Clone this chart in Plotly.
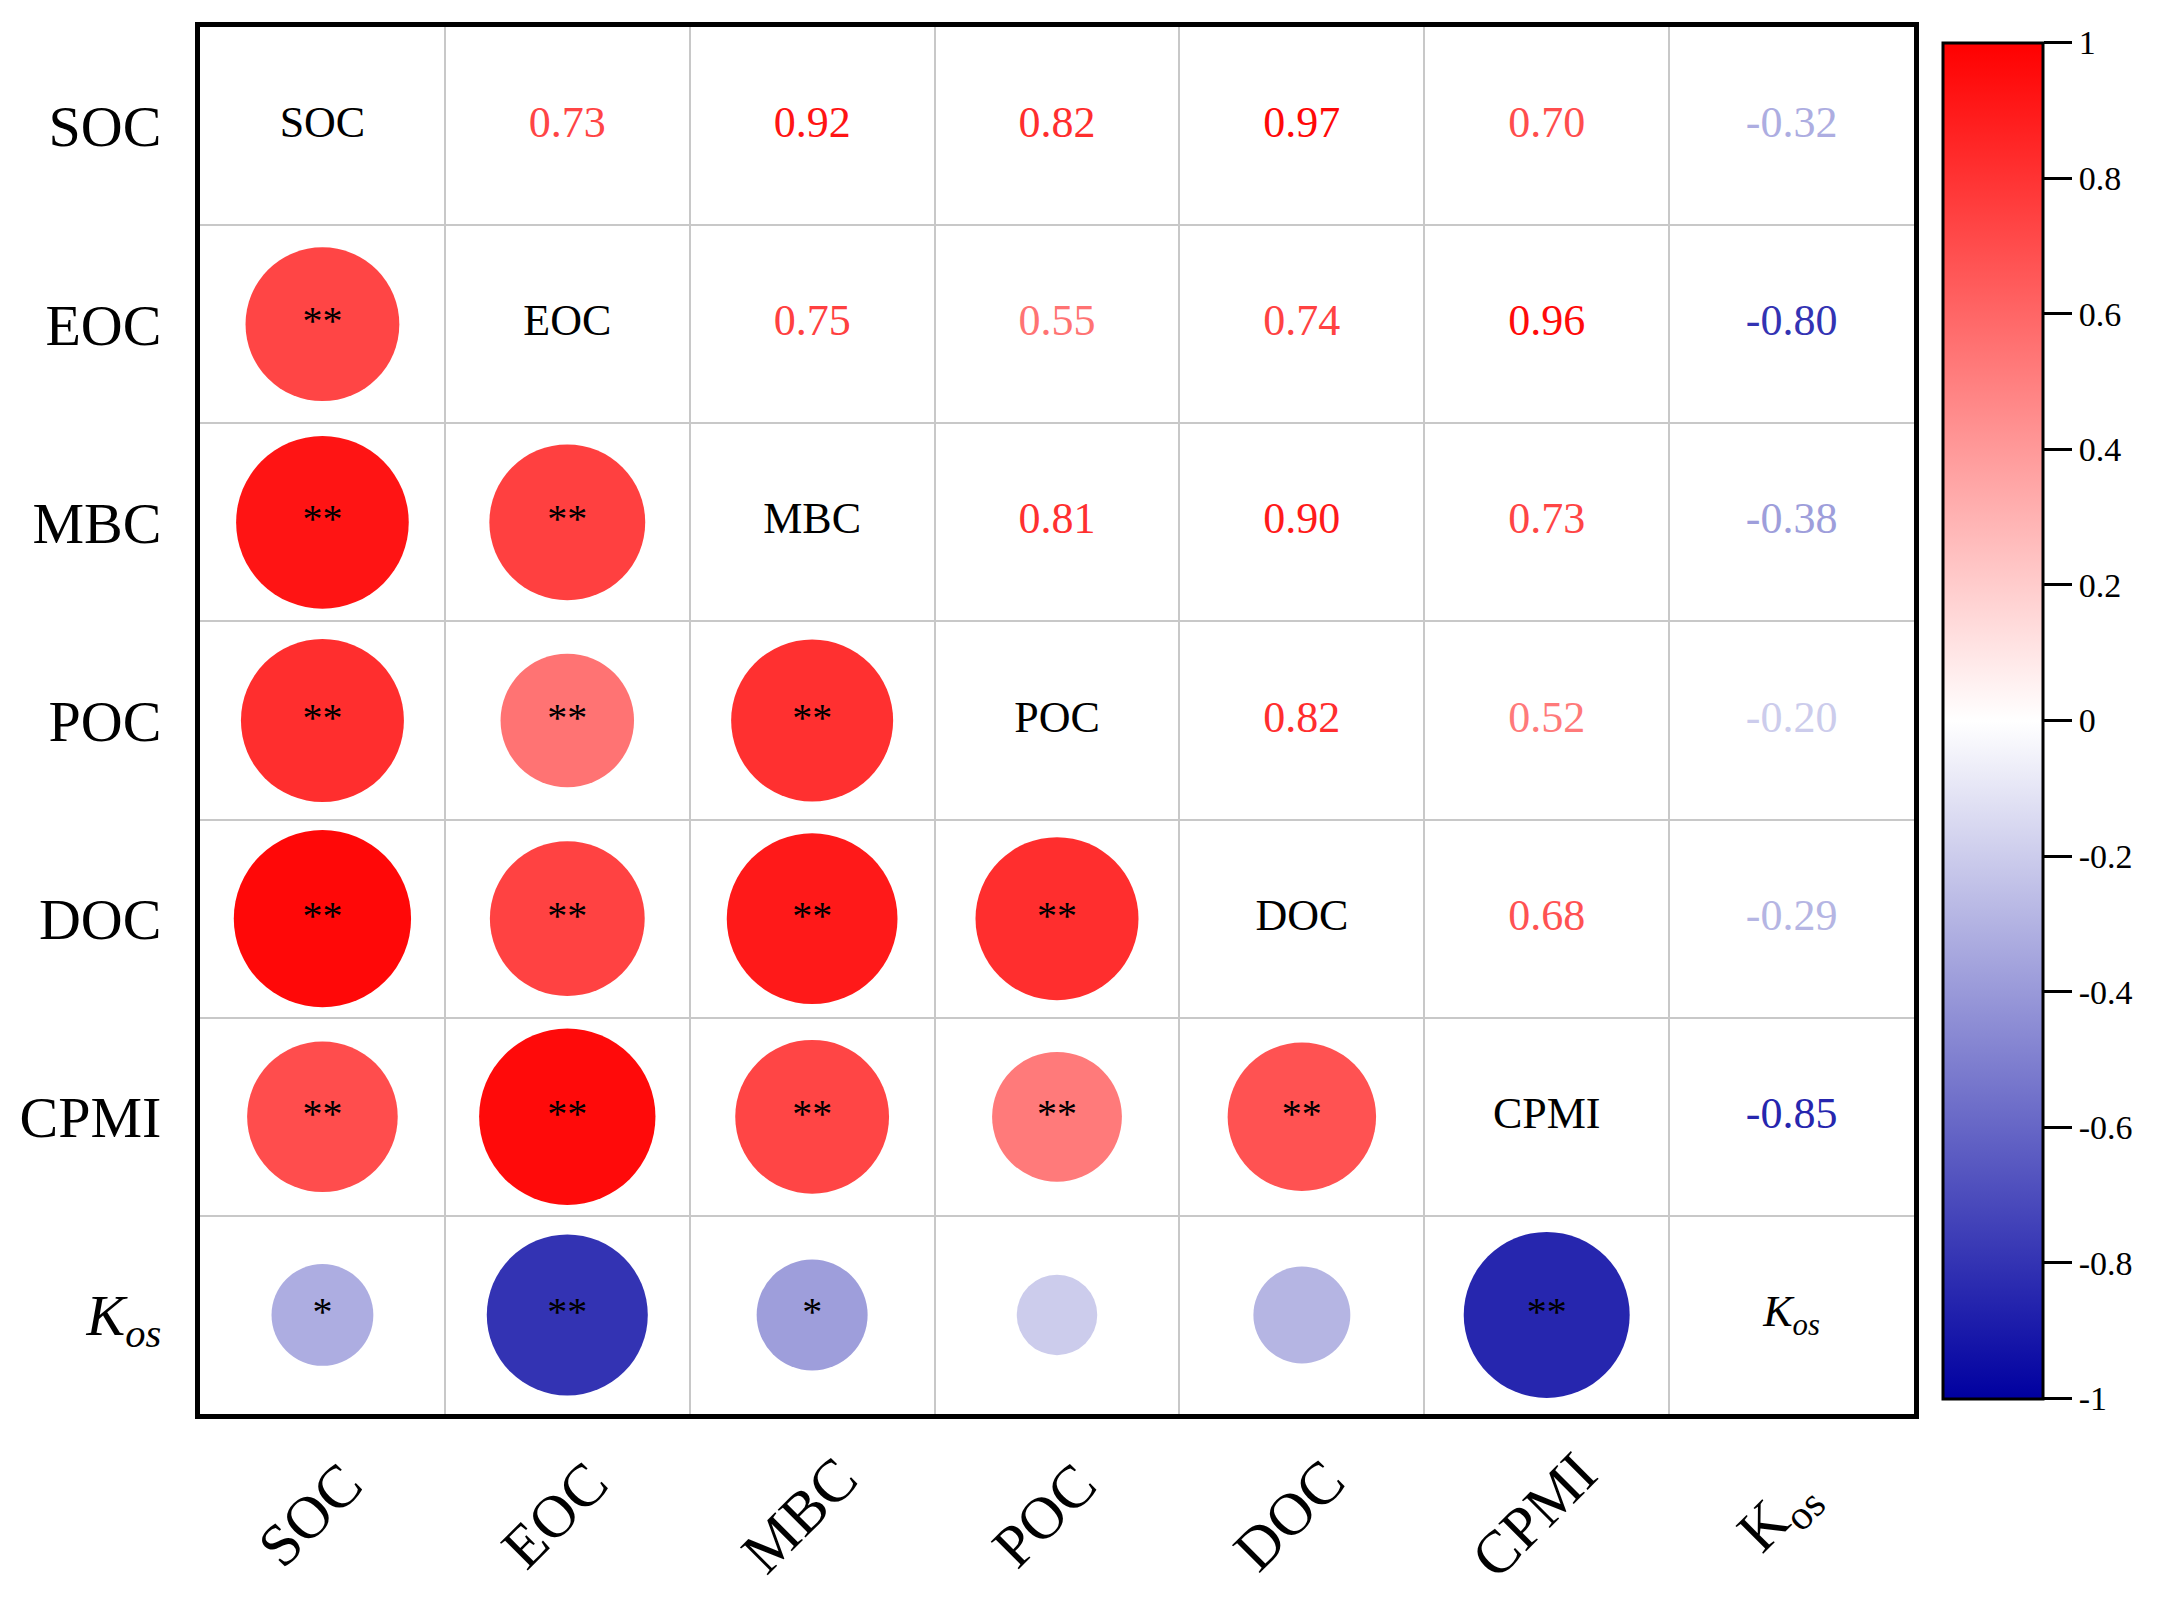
import numpy as np
import plotly.graph_objects as go
from plotly.colors import sample_colorscale

# variable names (axis order, top to bottom / left to right)
labels = ["SOC", "EOC", "MBC", "POC", "DOC", "CPMI", "Kos"]
tick_text = ["SOC", "EOC", "MBC", "POC", "DOC", "CPMI", "<i>K<sub>os</sub></i>"]
bottom_text = ["SOC", "EOC", "MBC", "POC", "DOC", "CPMI", "K<sub>os</sub>"]

# correlation coefficients (symmetric)
r_soc = [1.00, 0.73, 0.92, 0.82, 0.97, 0.70, -0.32]
r_eoc = [0.73, 1.00, 0.75, 0.55, 0.74, 0.96, -0.80]
r_mbc = [0.92, 0.75, 1.00, 0.81, 0.90, 0.73, -0.38]
r_poc = [0.82, 0.55, 0.81, 1.00, 0.82, 0.52, -0.20]
r_doc = [0.97, 0.74, 0.90, 0.82, 1.00, 0.68, -0.29]
r_cpmi = [0.70, 0.96, 0.73, 0.52, 0.68, 1.00, -0.85]
r_kos = [-0.32, -0.80, -0.38, -0.20, -0.29, -0.85, 1.00]
corr = [r_soc, r_eoc, r_mbc, r_poc, r_doc, r_cpmi, r_kos]

# significance marks (lower triangle)
sig_soc = ["", "**", "**", "**", "**", "**", "*"]
sig_eoc = ["**", "", "**", "**", "**", "**", "**"]
sig_mbc = ["**", "**", "", "**", "**", "**", "*"]
sig_poc = ["**", "**", "**", "", "**", "**", ""]
sig_doc = ["**", "**", "**", "**", "", "**", ""]
sig_cpmi = ["**", "**", "**", "**", "**", "", "**"]
sig_kos = ["*", "**", "*", "", "", "**", ""]
sig = [sig_soc, sig_eoc, sig_mbc, sig_poc, sig_doc, sig_cpmi, sig_kos]

cbar_vals = [1, 0.8, 0.6, 0.4, 0.2, 0, -0.2, -0.4, -0.6, -0.8, -1]
cbar_text = ["1", "0.8", "0.6", "0.4", "0.2", "0", "-0.2", "-0.4", "-0.6", "-0.8", "-1"]

cscale = [[0.0, "rgb(0,0,160)"], [0.5, "rgb(255,255,255)"], [1.0, "rgb(255,0,0)"]]
FONT = "Liberation Serif"
n = len(labels)

# split matrix into lower (circles), upper (numbers) and diagonal
cx, cy, cv = [], [], []
sx, sy, st = [], [], []
ux, uy, uv = [], [], []
for i in range(n):
    for j in range(n):
        if j < i:
            cx.append(j); cy.append(i); cv.append(corr[i][j])
            if sig[i][j]:
                sx.append(j); sy.append(i); st.append(sig[i][j])
        elif j > i:
            ux.append(j); uy.append(i); uv.append(corr[i][j])

cv = np.array(cv)
uv = np.array(uv)
num_colors = sample_colorscale(cscale, list((uv + 1) / 2))

fig = go.Figure()

fig.add_trace(go.Scatter(
    x=cx, y=cy, mode="markers",
    marker=dict(
        size=180 * np.sqrt(np.abs(cv)), opacity=1,
        color=cv, colorscale=cscale, cmin=-1, cmax=1,
        line=dict(width=0),
        showscale=True,
        colorbar=dict(
            x=1.017, xanchor="left", xpad=0,
            y=0.5, yanchor="middle", ypad=0,
            len=1356, lenmode="pixels", thickness=100,
            outlinewidth=3, outlinecolor="black",
            tickvals=cbar_vals, ticktext=cbar_text,
            ticks="outside", ticklen=28, tickwidth=3, tickcolor="black",
            tickfont=dict(family=FONT, size=34, color="black"),
        ),
    ),
    hoverinfo="skip", showlegend=False,
))

# significance stars
fig.add_trace(go.Scatter(
    x=sx, y=sy, mode="text", text=st, textposition="middle center",
    textfont=dict(family=FONT, size=40, color="black"),
    hoverinfo="skip", showlegend=False,
))

fig.add_trace(go.Scatter(
    x=ux, y=uy, mode="text",
    text=[f"{v:.2f}" for v in uv],
    textfont=dict(family=FONT, size=44, color=num_colors),
    hoverinfo="skip", showlegend=False,
))

fig.add_trace(go.Scatter(
    x=list(range(n)), y=list(range(n)), mode="text",
    text=tick_text,
    textfont=dict(family=FONT, size=44, color="black"),
    hoverinfo="skip", showlegend=False,
))

for j in range(n):
    fig.add_annotation(
        x=j - 0.05, y=-0.073, xref="x", yref="paper",
        xanchor="center", yanchor="middle",
        text=bottom_text[j], textangle=-45, showarrow=False,
        font=dict(family=FONT, size=60, color="black"),
    )

fig.update_xaxes(
    range=[-0.5, n - 0.5], showticklabels=False, ticks="",
    showgrid=False, zeroline=False,
    minor=dict(tick0=0.5, dtick=1, showgrid=True, gridcolor="rgb(200,200,200)", gridwidth=1.5),
    showline=True, mirror=True, linecolor="black", linewidth=5,
)
fig.update_yaxes(
    range=[n - 0.5, -0.5], tickvals=list(range(n)), ticktext=tick_text, ticks="",
    tickfont=dict(family=FONT, size=58, color="black"), ticklabelstandoff=22,
    showgrid=False, zeroline=False,
    minor=dict(tick0=0.5, dtick=1, showgrid=True, gridcolor="rgb(200,200,200)", gridwidth=1.5),
    showline=True, mirror=True, linecolor="black", linewidth=5,
)

fig.update_layout(
    width=2160, height=1604,
    margin=dict(l=184, r=254, t=19, b=198),
    paper_bgcolor="white", plot_bgcolor="white",
    font=dict(family=FONT, color="black"),
)

fig.write_html("out.html")
